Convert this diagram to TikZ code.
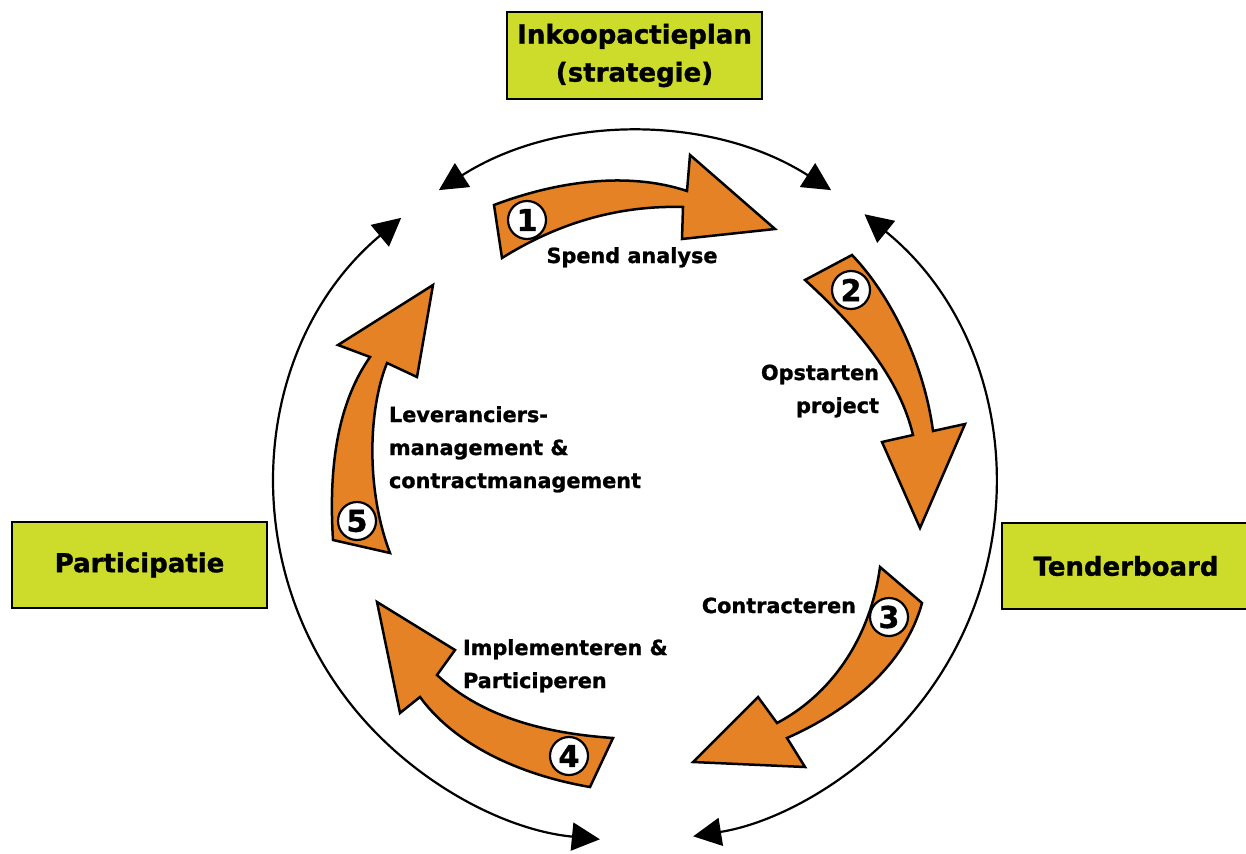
\documentclass[tikz,border=0pt]{standalone}
\usepackage{fontspec}
\setmainfont{DejaVu Sans}[BoldFeatures={FakeBold=1.2}]
\usetikzlibrary{arrows.meta}

\definecolor{boxgreen}{RGB}{205,220,42}
\definecolor{steporange}{RGB}{229,130,38}

\begin{document}
\begin{tikzpicture}[x=1pt, y=-1pt, outer sep=0pt]

\tikzstyle{board}=[draw, line width=2.5pt, fill=boxgreen, align=center, font=\fontsize{26}{38}\selectfont\bfseries]
\tikzstyle{phasearrow}=[draw, line width=2.5pt, fill=steporange]
\tikzstyle{num}=[draw, circle, line width=2.2pt, fill=white, minimum size=38pt, inner sep=0pt, font=\fontsize{30}{30}\selectfont\bfseries]
\tikzstyle{lbl}=[inner sep=0pt, font=\fontsize{20.8}{33}\selectfont\bfseries]
\tikzstyle{loopline}=[line width=2.2pt, {Triangle[length=28pt,width=28pt]}-{Triangle[length=28pt,width=28pt]}]

\useasboundingbox (0,0) rectangle (1246,853);
\fill[white] (0,0) rectangle (1246,853);

% boards
\node[board, minimum width=255pt, minimum height=87pt] (plan) at (634.5,55.5) {Inkoopactieplan\\(strategie)};
\node[board, minimum width=255pt, minimum height=86pt] (part) at (139.5,565) {Participatie};
\node[board, minimum width=248pt, minimum height=86pt] (tender) at (1126,566) {Tenderboard};

% outer ring, three parts
\coordinate (hub) at (635,487);
\path (hub) ++(-57:360 and 354) coordinate (topR) (hub) ++(-50.4:360 and 354) coordinate (rightT) (hub) ++(-130.5:360 and 354) coordinate (leftT);
\draw[loopline] (topR) arc[start angle=-57, end angle=-123, x radius=360, y radius=354];
\draw[loopline] (rightT) arc[start angle=-50.4, end angle=80.7, x radius=360, y radius=354];
\draw[loopline] (leftT) arc[start angle=-130.5, end angle=-264.4, x radius=360, y radius=354];

% phase arrows
\draw[phasearrow] (494,205) .. controls (560,180) and (630,172) .. (687,191) -- (690,155) -- (775,229) -- (682,239) -- (683,207) .. controls (610,205) and (550,228) .. (502,258) -- cycle;
\draw[phasearrow] (805,280) .. controls (860,330) and (900,380) .. (913,435) -- (882,442) -- (920,528) -- (965,424) -- (933,431) .. controls (925,370) and (895,300) .. (852,255) -- cycle;
\draw[phasearrow] (880,567) .. controls (870,640) and (830,695) .. (777,723) -- (758,697) -- (693,762) -- (805,767) -- (787,738) .. controls (850,710) and (905,665) .. (922,603) -- cycle;
\draw[phasearrow] (613,738) .. controls (540,733) and (480,715) .. (437,675) -- (455,650) -- (377,602) -- (400,713) -- (420,697) .. controls (455,745) and (520,775) .. (590,787) -- cycle;
\draw[phasearrow] (390,553) .. controls (366,490) and (368,410) .. (387,363) -- (417,377) -- (433,285) -- (338,345) -- (370,357) .. controls (340,400) and (328,460) .. (333,540) -- cycle;

\node[num] (n1) at (527,220) {1};
\node[num] (n2) at (851,290) {2};
\node[num] (n3) at (889,617) {3};
\node[num] (n4) at (569,756) {4};
\node[num] (n5) at (357,521) {5};

% labels (base = last line)
\node[lbl, anchor=base] (spend) at (632,263) {Spend analyse};
\node[lbl, anchor=base east, align=right] (start) at (879,413) {Opstarten\\project};
\node[lbl, anchor=base east] (contract) at (856,613) {Contracteren};
\node[lbl, anchor=base west, align=left] (impl) at (463,688) {Implementeren \&\\Participeren};
\node[lbl, anchor=base west, align=left] (lev) at (389,488) {Leveranciers-\\management \&\\contractmanagement};

\end{tikzpicture}
\end{document}
